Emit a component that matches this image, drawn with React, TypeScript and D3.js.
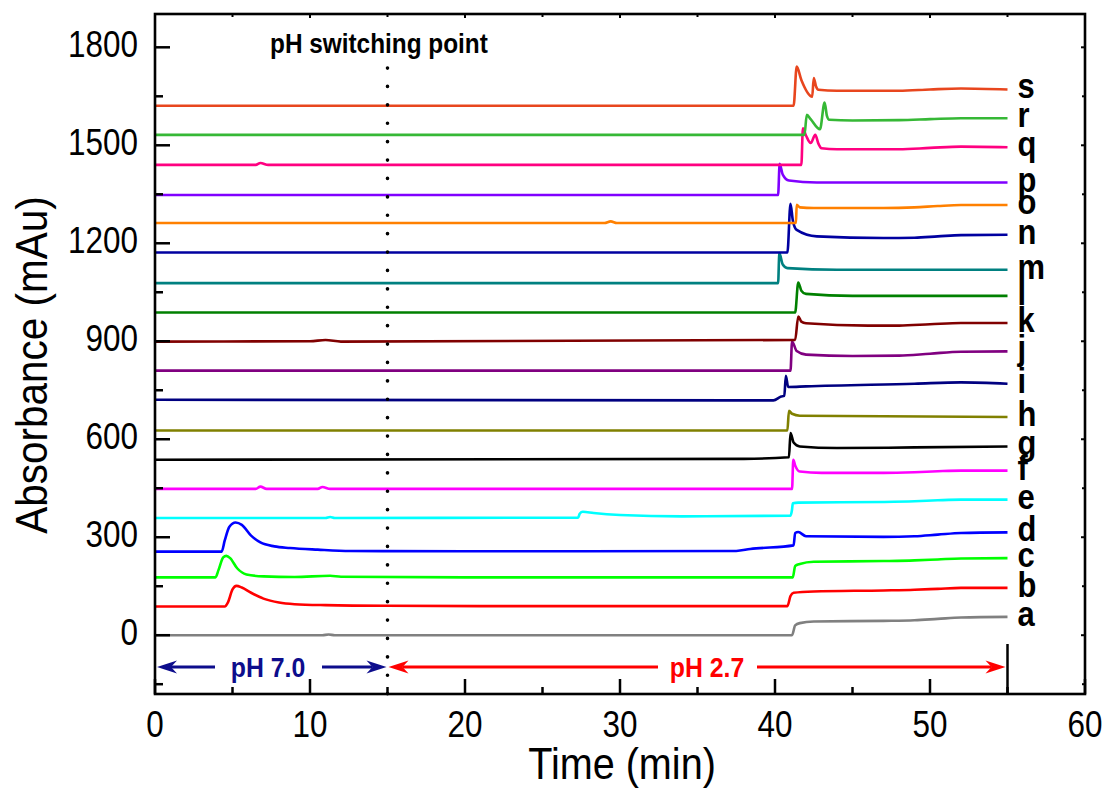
import React from 'react';
import * as d3 from 'd3';

// ---------- data ----------
const timeTicks = [0, 10, 20, 30, 40, 50, 60];
const timeMinorTicks = [5, 15, 25, 35, 45, 55];
const absTicks = [0, 300, 600, 900, 1200, 1500, 1800];
const absMinorTicks = [-150, 150, 450, 750, 1050, 1350, 1650];

const seriesLabels = ['a', 'b', 'c', 'd', 'e', 'f', 'g', 'h', 'i', 'j', 'k', 'l', 'm', 'n', 'o', 'p', 'q', 'r', 's'];
const seriesColors = ['#808080', '#ff0000', '#00ff00', '#0000ff', '#00ffff', '#ff00ff', '#000000', '#808000', '#000080', '#800080', '#800000', '#008000', '#008080', '#0000a0', '#ff8000', '#8000ff', '#ff0080', '#36b836', '#e8461e'];

const seriesA = [[0, 0], [10.8, 0], [11.2, 2], [11.6, 0], [41.1, 0], [41.3, 30], [41.6, 37], [42.5, 42], [47, 44], [49, 46], [50.5, 50], [52, 54], [55, 56]];
const seriesB = [[0, 88], [4.5, 88], [4.7, 100], [5.0, 140], [5.25, 151], [5.6, 146], [6.2, 130], [7, 112], [8, 100], [9, 95], [11, 92], [15, 90], [25, 89], [40.8, 89], [41.0, 120], [41.2, 130], [42.5, 134], [47, 137], [49, 139], [50.5, 142], [52, 145], [55, 145]];
const seriesC = [[0, 177], [3.9, 177], [4.1, 200], [4.4, 238], [4.6, 243], [4.85, 236], [5.3, 205], [5.9, 186], [7, 180], [9, 178], [11.3, 182], [12, 179], [20, 177], [41.15, 177], [41.3, 212], [41.6, 218], [42.5, 225], [47, 227], [49, 229], [50.5, 232], [52, 235], [55, 236]];
const seriesD = [[0, 256], [4.3, 256], [4.5, 290], [4.8, 332], [5.2, 345], [5.6, 338], [6.2, 305], [6.8, 284], [7.7, 272], [8.7, 267], [10.5, 262], [12.6, 258], [20, 257], [37.5, 258], [38.4, 264], [41.2, 275], [41.3, 313], [41.5, 316], [42, 303], [47, 301], [49, 303], [50.5, 308], [52, 313], [55, 315]];
const seriesE = [[0, 359], [11, 359], [11.3, 362], [11.6, 359], [27.3, 360], [27.4, 372], [27.6, 378], [28.3, 374], [30, 368], [34, 364], [41.0, 366], [41.1, 385], [41.15, 404], [41.5, 406], [47, 408], [49, 410], [50.5, 413], [52, 415], [55, 415]];
const seriesF = [[0, 448], [6.5, 448], [6.8, 455], [7.2, 448], [10.5, 448], [10.8, 454], [11.3, 448], [41.1, 448], [41.18, 537], [41.3, 520], [41.6, 501], [43, 497], [47, 497], [49, 499], [50.5, 502], [52, 504], [55, 504]];
const seriesG = [[0, 537], [38, 540], [40.9, 545], [41.0, 619], [41.2, 590], [41.6, 578], [44, 573], [49, 575], [55, 578]];
const seriesH = [[0, 627], [40.8, 627], [40.9, 687], [41.1, 678], [41.6, 672], [55, 668]];
const seriesI = [[0, 721], [39.9, 719], [40.4, 731], [40.6, 733], [40.7, 794], [40.85, 760], [42, 762], [49, 770], [52, 774], [55, 770]];
const seriesJ = [[0, 810], [41.0, 810], [41.1, 899], [41.4, 870], [42, 859], [45, 855], [48, 856], [50, 862], [52, 868], [55, 869]];
const seriesK = [[0, 899], [10, 900], [11, 904], [12, 899], [41.3, 904], [41.5, 976], [41.7, 960], [42, 955], [46, 948], [48, 948], [50, 952], [52, 956], [55, 956]];
const seriesL = [[0, 988], [41.3, 988], [41.5, 1080], [41.7, 1055], [42, 1045], [45, 1039], [55, 1039]];
const seriesM = [[0, 1078], [40.2, 1078], [40.28, 1170], [40.5, 1135], [40.8, 1124], [44, 1119], [55, 1119]];
const seriesN = [[0, 1172], [40.8, 1172], [41.0, 1321], [41.15, 1270], [41.4, 1241], [42.7, 1221], [47, 1216], [49, 1217], [50.5, 1221], [52, 1225], [55, 1226]];
const seriesO = [[0, 1262], [29, 1262], [29.4, 1267], [29.8, 1262], [41.35, 1262], [41.4, 1318], [41.6, 1310], [42.5, 1308], [47, 1308], [49, 1310], [50.5, 1314], [52, 1317], [55, 1317]];
const seriesP = [[0, 1348], [40.2, 1348], [40.3, 1443], [40.5, 1410], [40.9, 1392], [42.7, 1386], [55, 1386]];
const seriesQ = [[0, 1440], [6.5, 1440], [6.8, 1446], [7.3, 1440], [41.7, 1440], [41.8, 1552], [42.0, 1530], [42.3, 1507], [42.6, 1532], [42.8, 1505], [43.0, 1491], [44, 1488], [48, 1488], [50, 1492], [52, 1496], [55, 1494]];
const seriesR = [[0, 1532], [41.9, 1532], [42.05, 1593], [42.3, 1580], [42.9, 1549], [43.2, 1631], [43.35, 1590], [43.5, 1578], [45, 1576], [48, 1577], [50, 1580], [52, 1583], [55, 1583]];
const seriesS = [[0, 1621], [41.2, 1621], [41.4, 1741], [41.7, 1700], [42.4, 1649], [42.5, 1706], [42.65, 1680], [42.8, 1670], [44, 1667], [48, 1667], [50, 1671], [52, 1674], [55, 1671]];

const allSeries = [seriesA, seriesB, seriesC, seriesD, seriesE, seriesF, seriesG, seriesH, seriesI, seriesJ, seriesK, seriesL, seriesM, seriesN, seriesO, seriesP, seriesQ, seriesR, seriesS];

const switchTime = 15;
const endTime = 55;

// ---------- layout ----------
const W = 1107;
const H = 791;
const x = d3.scaleLinear().domain([0, 60]).range([155, 1085]);
const y = d3.scaleLinear().domain([-180, 1902]).range([694, 14]);
const FONT = "'Liberation Sans', Arial, Helvetica, sans-serif";

const line = d3
  .line<number[]>()
  .x((d) => x(d[0]))
  .y((d) => y(d[1]))
  .curve(d3.curveMonotoneX);

function SText({ tx, ty, sx = 1, sy = 1, rot = 0, children, ...rest }: any) {
  return (
    <text transform={`translate(${tx},${ty}) rotate(${rot}) scale(${sx},${sy})`} x={0} y={0} {...rest}>
      {children}
    </text>
  );
}

function Arrow({ x1, x2, yy, color, dir }: any) {
  const L = 20;
  const hw = 6.5;
  const notch = 14;
  if (dir < 0) {
    const tip = x1;
    return (
      <g>
        <line x1={tip + notch} x2={x2} y1={yy} y2={yy} stroke={color} strokeWidth={3} />
        <path d={`M${tip},${yy} L${tip + L},${yy - hw} L${tip + notch},${yy} L${tip + L},${yy + hw} Z`} fill={color} />
      </g>
    );
  }
  const tip = x2;
  return (
    <g>
      <line x1={x1} x2={tip - notch} y1={yy} y2={yy} stroke={color} strokeWidth={3} />
      <path d={`M${tip},${yy} L${tip - L},${yy - hw} L${tip - notch},${yy} L${tip - L},${yy + hw} Z`} fill={color} />
    </g>
  );
}

export default function App() {
  const [x0, x1] = x.range();
  const [yb, yt] = y.range();
  const arrowY = 667;
  const blue = '#0d0d8c';
  const red = '#ff0000';
  return (
    <svg width={W} height={H} style={{ position: 'absolute', left: 0, top: 0, background: '#fff' }} fontFamily={FONT}>
      <rect x={0} y={0} width={W} height={H} fill="#fff" />

      {allSeries.map((s, i) => (
        <path key={i} d={line(s as number[][]) || ''} fill="none" stroke={seriesColors[i]} strokeWidth={2.6} strokeLinejoin="round" />
      ))}

      {allSeries.map((s, i) => {
        const last = s[s.length - 1];
        return (
          <SText key={i} tx={x(last[0]) + 10} ty={y(last[1]) + 9} sx={0.86} fontSize={36} fontWeight="bold" fill="#000">
            {seriesLabels[i]}
          </SText>
        );
      })}

      <line x1={x(switchTime)} x2={x(switchTime)} y1={68} y2={yb} stroke="#000" strokeWidth={3.6} strokeDasharray="0.1 18.3" strokeLinecap="round" />
      <SText tx={270} ty={53} sx={0.87} fontSize={28} fontWeight="bold" fill="#000">
        pH switching point
      </SText>

      <Arrow x1={x(0) + 2} x2={215} yy={arrowY} color={blue} dir={-1} />
      <Arrow x1={322} x2={x(switchTime) - 1} yy={arrowY} color={blue} dir={1} />
      <SText tx={268} ty={677} sx={0.92} fontSize={27} fontWeight="bold" fill={blue} textAnchor="middle">
        pH 7.0
      </SText>
      <Arrow x1={x(switchTime) + 1} x2={658} yy={arrowY} color={red} dir={-1} />
      <Arrow x1={757} x2={x(endTime) - 2} yy={arrowY} color={red} dir={1} />
      <SText tx={707} ty={677} sx={0.92} fontSize={27} fontWeight="bold" fill={red} textAnchor="middle">
        pH 2.7
      </SText>
      <line x1={x(endTime)} x2={x(endTime)} y1={644} y2={yb} stroke="#000" strokeWidth={2.5} />

      <rect x={x0} y={yt} width={x1 - x0} height={yb - yt} fill="none" stroke="#000" strokeWidth={2.6} />

      {timeTicks.map((t) => (
        <g key={'xt' + t}>
          <line x1={x(t)} x2={x(t)} y1={yb} y2={yb - 15} stroke="#000" strokeWidth={2.5} />
          <line x1={x(t)} x2={x(t)} y1={yt} y2={yt + 4} stroke="#000" strokeWidth={2} />
          <SText tx={x(t)} ty={737} sx={0.85} fontSize={37} textAnchor="middle" fill="#000">
            {t}
          </SText>
        </g>
      ))}
      {timeMinorTicks.map((t) => (
        <g key={'xm' + t}>
          <line x1={x(t)} x2={x(t)} y1={yb} y2={yb - 7} stroke="#000" strokeWidth={2.5} />
          <line x1={x(t)} x2={x(t)} y1={yt} y2={yt + 3} stroke="#000" strokeWidth={2} />
        </g>
      ))}

      {absTicks.map((v) => (
        <g key={'yt' + v}>
          <line x1={x0} x2={x0 + 15} y1={y(v)} y2={y(v)} stroke="#000" strokeWidth={2.5} />
          <line x1={x1} x2={x1 - 4} y1={y(v)} y2={y(v)} stroke="#000" strokeWidth={2} />
          <SText tx={138} ty={y(v) + 10} sx={0.85} fontSize={37} textAnchor="end" fill="#000">
            {v}
          </SText>
        </g>
      ))}
      {absMinorTicks.map((v) => (
        <g key={'ym' + v}>
          <line x1={x0} x2={x0 + 8} y1={y(v)} y2={y(v)} stroke="#000" strokeWidth={2.5} />
          <line x1={x1} x2={x1 - 3} y1={y(v)} y2={y(v)} stroke="#000" strokeWidth={2} />
        </g>
      ))}

      <SText tx={622} ty={779} sx={0.9} fontSize={44} textAnchor="middle" fill="#000">
        Time (min)
      </SText>
      <SText tx={47} ty={365} rot={-90} sx={0.92} fontSize={44} textAnchor="middle" fill="#000">
        Absorbance (mAu)
      </SText>
    </svg>
  );
}
